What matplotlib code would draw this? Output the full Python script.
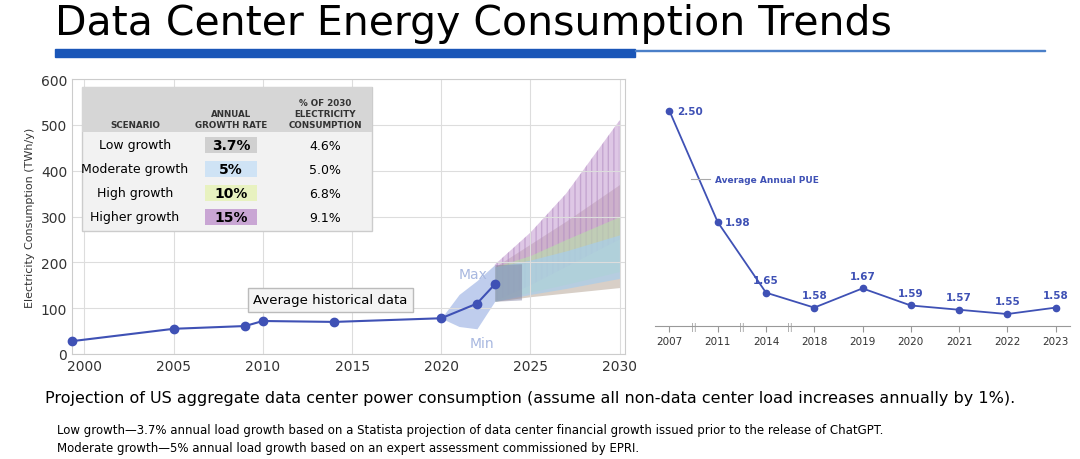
import numpy as np
import matplotlib.pyplot as plt
from matplotlib.patches import Rectangle

# historical data (TWh/y)
hist_years = [1999.3, 2005, 2009, 2010, 2014, 2020, 2022, 2023]
hist_vals = [28, 55, 61, 72, 70, 78, 110, 152]
band_years = [2020, 2021, 2022, 2023]
band_max = [78, 130, 160, 195]
band_min = [78, 60, 55, 115]

# projections 2023-2030
proj_years = [2023, 2025, 2027, 2030]
low_lo = [115, 125, 133, 145]
low_hi = [190, 240, 290, 370]
mod_lo = [115, 130, 143, 165]
mod_hi = [190, 205, 225, 260]
high_lo = [115, 135, 152, 180]
high_hi = [190, 215, 250, 300]
higher_lo = [115, 150, 190, 250]
higher_hi = [195, 265, 350, 510]

scenarios = ['Low growth', 'Moderate growth', 'High growth', 'Higher growth']
rates = ['3.7%', '5%', '10%', '15%']
shares = ['4.6%', '5.0%', '6.8%', '9.1%']
rate_colors = ['#d0d0d0', '#cfe3f5', '#e8f2c0', '#c9a6d4']

# PUE
pue_years = ['2007', '2011', '2014', '2018', '2019', '2020', '2021', '2022', '2023']
pue_vals = [2.50, 1.98, 1.65, 1.58, 1.67, 1.59, 1.57, 1.55, 1.58]

W, H = 1080, 460
fig = plt.figure(figsize=(W / 100, H / 100), dpi=100)
fig.patch.set_facecolor('white')
blue = '#3f51b5'

fig.text(55 / W, 1 - 24 / H, 'Data Center Energy Consumption Trends', fontsize=29.5,
         va='center', ha='left', color='black')
fig.add_artist(Rectangle((55 / W, 1 - 58 / H), 580 / W, 8 / H, color='#1a56b8', transform=fig.transFigure))
fig.add_artist(Rectangle((635 / W, 1 - 52 / H), 410 / W, 1.5 / H, color='#4a7fc8', transform=fig.transFigure))

# left chart: top at y=80px, bottom at y=355px
AT, AB, AL, AR = 80, 355, 72, 625
ax = fig.add_axes([AL / W, (H - AB) / H, (AR - AL) / W, (AB - AT) / H])
ax.set_xlim(1999.3, 2030.3)
ax.set_ylim(0, 600)
ax.set_xticks([2000, 2005, 2010, 2015, 2020, 2025, 2030])
ax.set_yticks(range(0, 601, 100))
ax.grid(color='#dddddd', linewidth=0.8)
for s in ax.spines.values():
    s.set_color('#cccccc')
ax.tick_params(length=0, labelsize=10, colors='#333333')
ax.set_ylabel('Electricity Consumption (TWh/y)', fontsize=8, color='#333333')

ax.fill_between(proj_years, low_lo, low_hi, color='#b8a89a', alpha=0.55, lw=0)
ax.fill_between(proj_years, higher_lo, higher_hi, color='#c49ad0', alpha=0.55, lw=0, hatch='|||', edgecolor='#b08ac0')
ax.fill_between(proj_years, high_lo, high_hi, color='#b8e0a8', alpha=0.6, lw=0)
ax.fill_between(proj_years, mod_lo, mod_hi, color='#a8cdeb', alpha=0.7, lw=0)
ax.fill_between(band_years, band_min, band_max, color='#b8c8ec', alpha=0.9, lw=0)
ax.fill_between([2023, 2024.5], [115, 118], [195, 197], color='#777799', alpha=0.45, lw=0)
ax.plot(hist_years, hist_vals, color=blue, lw=1.5, marker='o', ms=6, zorder=5, clip_on=False)
ax.text(2021.0, 165, 'Max', color='#a8b8e0', fontsize=10)
ax.text(2021.6, 15, 'Min', color='#a8b8e0', fontsize=10)
ax.text(2013.8, 118, 'Average historical data', fontsize=9.5, ha='center', va='center',
        bbox=dict(facecolor='#f4f4f4', edgecolor='#bbbbbb', pad=4))

# table inside left chart (axes fraction)
def fx(px):
    return (px - AL) / (AR - AL)

def fy(py):
    return 1 - (py - AT) / (AB - AT)

ty_top, ty_hdr, ty_bot = fy(88), fy(133), fy(232)
ax.add_patch(Rectangle((fx(82), ty_bot), fx(372) - fx(82), ty_top - ty_bot, transform=ax.transAxes,
                       facecolor='#f2f2f2', edgecolor='#cccccc', zorder=6))
ax.add_patch(Rectangle((fx(82), ty_hdr), fx(372) - fx(82), ty_top - ty_hdr, transform=ax.transAxes,
                       facecolor='#d6d6d6', edgecolor='none', zorder=6))
cx = [fx(135), fx(231), fx(325)]
hdr = ['SCENARIO', 'ANNUAL\nGROWTH RATE', '% OF 2030\nELECTRICITY\nCONSUMPTION']
for x, h in zip(cx, hdr):
    ax.text(x, ty_hdr + 0.012, h, transform=ax.transAxes, ha='center', va='bottom',
            fontsize=6.3, fontweight='bold', color='#333333', zorder=7, linespacing=1.25)
for i, (sc, r, sh, c) in enumerate(zip(scenarios, rates, shares, rate_colors)):
    y = fy(146 + 24 * i)
    ax.text(cx[0], y, sc, transform=ax.transAxes, ha='center', va='center', fontsize=9, zorder=7)
    ax.add_patch(Rectangle((fx(205), y - 0.028), fx(257) - fx(205), 0.056, transform=ax.transAxes,
                           facecolor=c, edgecolor='none', zorder=7))
    ax.text(cx[1], y, r, transform=ax.transAxes, ha='center', va='center', fontsize=10,
            fontweight='bold', zorder=8)
    ax.text(cx[2], y, sh, transform=ax.transAxes, ha='center', va='center', fontsize=9, zorder=7)

# right chart
ax2 = fig.add_axes([655 / W, 133 / H, 415 / W, 227 / H])
xs = np.arange(len(pue_years))
ax2.set_xlim(-0.3, len(pue_years) - 0.7)
ax2.set_ylim(1.494, 2.556)
ax2.plot(xs, pue_vals, color=blue, lw=1.3, marker='o', ms=4.5)
for x, v in zip(xs, pue_vals):
    if x < 2:
        ax2.text(x + 0.15, v, f'{v:.2f}', color=blue, fontsize=7.5, fontweight='bold', va='center')
    else:
        ax2.text(x, v + 0.045, f'{v:.2f}', color=blue, fontsize=7.5, fontweight='bold', ha='center')
ax2.plot([0.45, 0.85], [2.18, 2.18], color='#aaaaaa', lw=0.8)
ax2.text(0.95, 2.18, 'Average Annual PUE', color=blue, fontsize=6.5, fontweight='bold', va='center')
for s in ['top', 'right', 'left']:
    ax2.spines[s].set_visible(False)
ax2.spines['bottom'].set_color('#999999')
ax2.set_yticks([])
ax2.set_xticks(xs)
ax2.set_xticklabels(pue_years)
ax2.tick_params(axis='x', labelsize=7.5, colors='#333333', length=4, color='#999999')
for bx in [0.5, 1.5, 2.5]:
    ax2.text(bx, 1.494, '||', ha='center', va='center', fontsize=6, color='#999999')

fig.text(45 / W, 1 - 399 / H, 'Projection of US aggregate data center power consumption (assume all non-data center load increases annually by 1%).',
         fontsize=11.5, va='center')
fig.text(57 / W, 1 - 431 / H, 'Low growth\u20143.7% annual load growth based on a Statista projection of data center financial growth issued prior to the release of ChatGPT.',
         fontsize=8.5, va='center')
fig.text(57 / W, 1 - 449 / H, 'Moderate growth\u20145% annual load growth based on an expert assessment commissioned by EPRI.',
         fontsize=8.5, va='center')

fig.savefig('out.png', dpi=100)
